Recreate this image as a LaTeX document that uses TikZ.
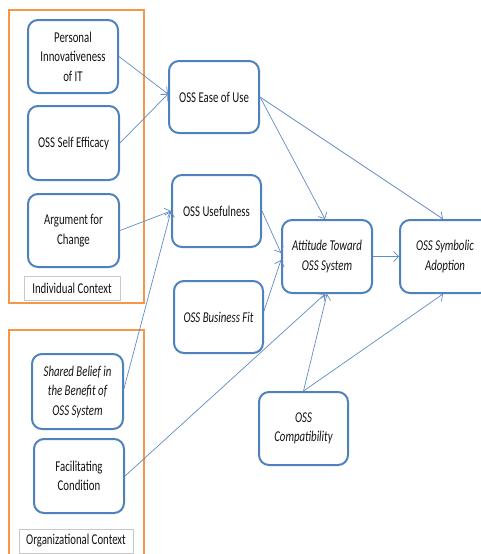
\documentclass[tikz,border=0pt]{standalone}
\usepackage{fontspec}
\setmainfont{Carlito}[FakeStretch=0.72]
\usetikzlibrary{arrows.meta,calc}
\definecolor{boxblue}{RGB}{79,129,189}
\definecolor{lineblue}{RGB}{96,140,200}
\definecolor{orng}{RGB}{247,150,70}
\definecolor{lblgray}{RGB}{200,200,200}
\definecolor{txt}{RGB}{20,20,20}
\begin{document}
\begin{tikzpicture}[x=1pt,y=-1pt,
  box/.style={draw=boxblue, line width=2pt, rounded corners=10pt, fill=white,
    align=center, inner sep=2pt, text=txt, font=\fontsize{15}{19.5}\selectfont},
  lbl/.style={draw=lblgray, line width=0.6pt, fill=white, text=txt,
    font=\fontsize{15}{16}\selectfont, inner sep=0pt},
  ctx/.style={draw=orng, line width=2.8pt},
  conn/.style={draw=lineblue, line width=0.7pt, -{Straight Barb[length=5pt,width=10pt,line width=0.7pt]}}
]
\useasboundingbox (0,0) rectangle (481,554);
\fill[white] (0,0) rectangle (481,554);

% context frames
\draw[ctx] (9,10) rectangle (144,303);
\draw[ctx] (9,330) rectangle (144,566);

% left nodes
\node[box, minimum width=90pt, minimum height=73pt] (pin) at (73,56.5) {Personal\\Innovativeness\\of IT};
\node[box, minimum width=91pt, minimum height=74pt] (se) at (73.5,143) {OSS Self Efficacy};
\node[box, minimum width=91pt, minimum height=73pt] (arg) at (73.5,230.5) {Argument for\\Change};
\node[lbl, minimum width=96pt, minimum height=24pt] (ic) at (72,288) {Individual Context};

\node[box, minimum width=91pt, minimum height=75pt] (sb) at (77.5,391.5) {\itshape Shared Belief in\\\itshape the Benefit of\\\itshape OSS System};
\node[box, minimum width=90pt, minimum height=74pt] (fc) at (79,476) {Facilitating\\Condition};
\node[lbl, minimum width=114pt, minimum height=24pt] (oc) at (76,541) {Organizational Context};

% middle / right nodes
\node[box, minimum width=90pt, minimum height=72pt] (eou) at (214,97) {OSS Ease of Use};
\node[box, minimum width=89pt, minimum height=72pt] (use) at (216.5,211) {OSS Usefulness};
\node[box, minimum width=89pt, minimum height=72pt] (bf) at (218.5,317) {\itshape OSS Business Fit};
\node[box, minimum width=90pt, minimum height=73pt] (att) at (327,256.5) {\itshape Attitude Toward\\\itshape OSS System};
\node[box, minimum width=90pt, minimum height=73pt] (sym) at (445,256.5) {\itshape OSS Symbolic\\\itshape Adoption};
\node[box, minimum width=89pt, minimum height=73pt] (comp) at (303.5,428.5) {\itshape OSS\\\itshape Compatibility};

% connectors
\draw[conn] (pin.east) -- ($(eou.west)+(0,-3)$);
\draw[conn] (se.east) -- ($(eou.west)+(0,-3)$);
\draw[conn] (arg.east) -- (use.west);
\draw[conn] ($(sb.east)+(0,-3)$) -- (use.west);
\draw[conn] (fc.east) -- ($(att.south)+(-2,0)$);
\draw[conn] (eou.east) -- ($(att.north)+(-2,0)$);
\draw[conn] (eou.east) -- ($(sym.north)+(-2,0)$);
\draw[conn] (use.east) -- ($(att.west)+(0,-3.5)$);
\draw[conn] ($(bf.east)+(0,-6)$) -- ($(att.west)+(0,3.5)$);
\draw[conn] (comp.north) -- (att.south);
\draw[conn] (comp.north) -- ($(sym.south)+(-2,0)$);
\draw[conn] (att.east) -- (sym.west);
\end{tikzpicture}
\end{document}
